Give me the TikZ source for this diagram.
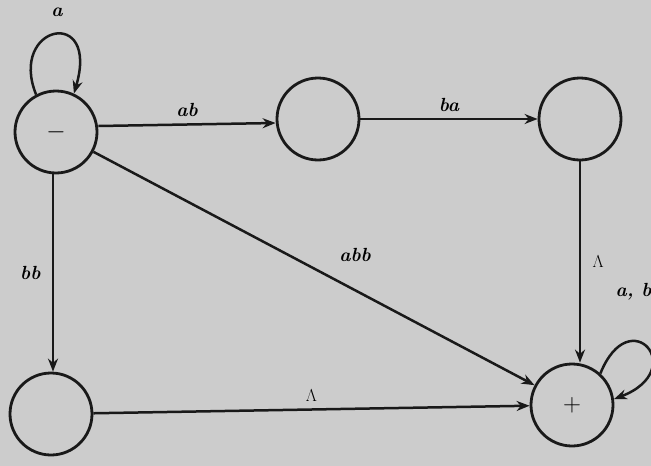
\documentclass[tikz,border=0pt]{standalone}
\usetikzlibrary{arrows.meta}
\begin{document}
\begin{tikzpicture}[x=1pt,y=-1pt,
  state/.style={circle,draw=black!90,line width=2.8pt,minimum size=82pt,inner sep=0pt,font=\fontsize{26}{30}\selectfont},
  edge/.style={draw=black!90,line width=2.5pt,-{Stealth[length=13pt,width=10pt]}},
  lbl/.style={font=\fontsize{19}{22}\selectfont\bfseries\itshape}]
\fill[black!20] (0,0) rectangle (651,466);
\useasboundingbox (0,0) rectangle (651,466);
\node[state] (s) at (56,132) {$-$};
\node[state] (m) at (318,119) {};
\node[state] (r) at (580,119) {};
\node[state] (b) at (51,414) {};
\node[state] (p) at (572,405) {$+$};
\draw[edge] (s.east |- 0,126) -- node[lbl,above=3pt]{ab} (m.west |- 0,123);
\draw[edge] (m) -- node[lbl,above=3pt]{ba} (r);
\draw[edge] (r) -- node[lbl,right=8pt]{$\Lambda$} (p.north -| r);
\draw[edge] (s.south -| 53,0) -- node[lbl,left=8pt]{bb} (b.north -| 53,0);
\draw[edge] (s) -- (p);
\node[lbl] (abb) at (355,255) {abb};
\draw[edge] (b) -- node[lbl,above=3pt]{$\Lambda$} (p);
\draw[edge] (s.118) .. controls (8,25) and (100,5) .. (s.65);
\node[lbl] (la) at (57,12) {a};
\draw[edge] (p.48) .. controls (630,300) and (690,370) .. (p.8);
\node[lbl,anchor=west] (lab) at (612,292) {a, b};
\end{tikzpicture}
\end{document}
